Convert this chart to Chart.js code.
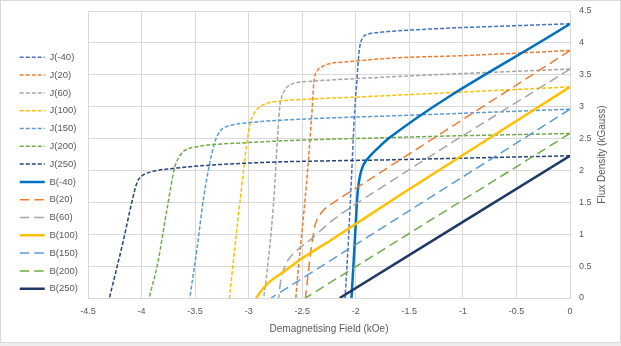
<!DOCTYPE html>
<html>
<head>
<meta charset="utf-8">
<script src="https://cdn.jsdelivr.net/npm/chart.js@4.4.0/dist/chart.umd.min.js"></script>
<style>
  html, body { margin: 0; padding: 0; background: #fff; }
</style>
</head>
<body>
<canvas id="bhChart" width="621" height="346"></canvas>
<script>
// series names (temperature in degC)
const temps = ['-40', '20', '60', '100', '150', '200', '250'];

// intrinsic curves J(H) : [H kOe, J kGauss]
const jM40 = [[0, 4.30], [-0.5, 4.27], [-1.0, 4.24], [-1.5, 4.20], [-1.75, 4.17], [-1.88, 4.14], [-1.94, 4.07], [-1.97, 3.85], [-1.99, 3.40], [-2.01, 2.94], [-2.04, 1.90], [-2.07, 0.86], [-2.10, 0]];
const j20 = [[0, 3.88], [-1.0, 3.80], [-1.68, 3.76], [-2.10, 3.70], [-2.23, 3.68], [-2.31, 3.63], [-2.36, 3.56], [-2.39, 3.40], [-2.41, 2.90], [-2.44, 2.20], [-2.48, 1.43], [-2.54, 0.39], [-2.56, 0]];
const j60 = [[0, 3.59], [-1.0, 3.52], [-2.0, 3.44], [-2.40, 3.40], [-2.57, 3.37], [-2.64, 3.31], [-2.68, 3.20], [-2.71, 2.99], [-2.77, 1.43], [-2.83, 0.39], [-2.86, 0]];
const j100 = [[0, 3.31], [-1.0, 3.23], [-2.0, 3.15], [-2.42, 3.12], [-2.70, 3.09], [-2.85, 3.04], [-2.93, 2.94], [-2.98, 2.78], [-3.00, 2.62], [-3.08, 1.53], [-3.18, 0]];
const j150 = [[0, 2.96], [-1.59, 2.86], [-2.42, 2.81], [-2.99, 2.75], [-3.18, 2.70], [-3.26, 2.63], [-3.32, 2.42], [-3.42, 1.58], [-3.48, 0.80], [-3.55, 0]];
const j200 = [[0, 2.58], [-1.59, 2.52], [-3.08, 2.43], [-3.49, 2.37], [-3.60, 2.31], [-3.65, 2.21], [-3.69, 2.05], [-3.77, 1.32], [-3.85, 0.54], [-3.93, 0]];
const j250 = [[0, 2.23], [-1.59, 2.17], [-3.08, 2.11], [-3.71, 2.03], [-3.93, 1.97], [-4.00, 1.91], [-4.04, 1.82], [-4.08, 1.58], [-4.17, 0.90], [-4.30, 0]];

// normal curves B(H) : [H kOe, B kGauss]
const bM40 = [[0, 4.30], [-1.68, 2.52], [-1.80, 2.34], [-1.87, 2.22], [-1.93, 2.08], [-1.96, 1.92], [-1.98, 1.70], [-1.99, 1.48], [-2.01, 0.86], [-2.04, 0]];
const b20 = [[0, 3.88], [-1.99, 1.73], [-2.23, 1.47], [-2.32, 1.34], [-2.38, 1.14], [-2.41, 0.85], [-2.44, 0.45], [-2.47, 0]];
const b60 = [[0, 3.59], [-1.68, 1.82], [-2.23, 1.20], [-2.42, 0.92], [-2.54, 0.76], [-2.63, 0.60], [-2.67, 0.46], [-2.70, 0.28], [-2.72, 0]];
const b100 = [[0, 3.31], [-1.59, 1.61], [-2.23, 0.91], [-2.52, 0.60], [-2.70, 0.38], [-2.80, 0.26], [-2.86, 0.16], [-2.90, 0.07], [-2.93, 0]];
const b150 = [[0, 2.96], [-2.79, 0]];
const b200 = [[0, 2.58], [-2.47, 0]];
const b250 = [[0, 2.23], [-2.15, 0]];

const jCurves = [jM40, j20, j60, j100, j150, j200, j250];
const bCurves = [bM40, b20, b60, b100, b150, b200, b250];

const xTitle = 'Demagnetising Field (kOe)';
const yTitle = 'Flux Density (kGauss)';

// styles
const jColors = ['#4472C4', '#ED7D31', '#A5A5A5', '#FFC000', '#5B9BD5', '#70AD47', '#264478'];
const bColors = ['#0070C0', '#ED7D31', '#A5A5A5', '#FFC000', '#5B9BD5', '#70AD47', '#1F3864'];
const bSolid = [true, false, false, true, false, false, true];
const FONT = '"Liberation Sans", Arial, sans-serif';
const TXT = '#595959';

const toPts = arr => arr.map(p => ({ x: p[0], y: p[1] }));
const fmt = v => String(Number(v.toFixed(2)));

const datasets = [];
temps.forEach((t, i) => {
  datasets.push({
    label: 'J(' + t + ')',
    data: toPts(jCurves[i]),
    borderColor: jColors[i],
    borderWidth: 1.5,
    borderDash: [4, 2]
  });
});
temps.forEach((t, i) => {
  datasets.push({
    label: 'B(' + t + ')',
    data: toPts(bCurves[i]),
    borderColor: bColors[i],
    borderWidth: bSolid[i] ? 2.5 : 1.5,
    borderDash: bSolid[i] ? [] : [9.5, 5]
  });
});
datasets.forEach((d, i) => {
  d.showLine = true;
  d.pointRadius = 0;
  d.backgroundColor = d.borderColor;
  d.cubicInterpolationMode = 'monotone';
  d.order = datasets.length - i;
});

const framePlugin = {
  id: 'frame',
  beforeDraw(chart) {
    const ctx = chart.ctx;
    ctx.save();
    ctx.fillStyle = '#ffffff';
    ctx.fillRect(0, 0, chart.width, chart.height);
    ctx.fillStyle = '#eeeeee';
    ctx.fillRect(0, chart.height - 3, chart.width, 3);
    ctx.strokeStyle = '#d9d9d9';
    ctx.lineWidth = 1;
    ctx.strokeRect(0.5, 0.5, chart.width - 1, chart.height - 4);
    ctx.restore();
  }
};

const yTitlePlugin = {
  id: 'yTitle',
  afterDraw(chart) {
    const ctx = chart.ctx;
    const a = chart.chartArea;
    ctx.save();
    ctx.translate(chart.width - 19, (a.top + a.bottom) / 2);
    ctx.rotate(-Math.PI / 2);
    ctx.font = '10px ' + FONT;
    ctx.fillStyle = TXT;
    ctx.textAlign = 'center';
    ctx.textBaseline = 'middle';
    ctx.fillText(yTitle, 0, 0);
    ctx.restore();
  }
};

new Chart(document.getElementById('bhChart'), {
  type: 'scatter',
  data: { datasets: datasets },
  plugins: [framePlugin, yTitlePlugin],
  options: {
    responsive: false,
    animation: false,
    layout: { padding: { left: 1 } },
    plugins: {
      tooltip: { enabled: false },
      legend: {
        position: 'left',
        labels: {
          usePointStyle: true,
          pointStyle: 'line',
          pointStyleWidth: 25,
          boxWidth: 25,
          padding: 8.3,
          color: TXT,
          font: { family: FONT, size: 9.5 },
          sort: (a, b) => a.datasetIndex - b.datasetIndex,
          generateLabels(chart) {
            const items = Chart.defaults.plugins.legend.labels.generateLabels(chart);
            items.forEach(it => {
              const ds = chart.data.datasets[it.datasetIndex];
              it.lineDash = ds.borderDash;
              it.lineWidth = ds.borderWidth;
              it.strokeStyle = ds.borderColor;
            });
            return items;
          }
        }
      }
    },
    scales: {
      x: {
        type: 'linear',
        min: -4.5,
        max: 0,
        ticks: { stepSize: 0.5, padding: 8, color: TXT, font: { family: FONT, size: 9 }, callback: fmt },
        grid: { color: '#d9d9d9', drawTicks: false },
        border: { color: '#d9d9d9' },
        title: { display: true, text: xTitle, color: TXT, font: { family: FONT, size: 10 }, padding: { top: 4, bottom: 11 } },
        afterFit(scale) {
          scale.height = 48;
          scale.paddingLeft = 88;
        }
      },
      y: {
        type: 'linear',
        position: 'right',
        min: 0,
        max: 4.5,
        ticks: { stepSize: 0.5, padding: 9, color: TXT, font: { family: FONT, size: 9 }, callback: fmt },
        grid: { color: '#d9d9d9', drawTicks: false },
        border: { color: '#d9d9d9' },
        afterFit(scale) {
          scale.width = 51;
          scale.paddingTop = 11;
        }
      }
    }
  }
});
</script>
</body>
</html>
